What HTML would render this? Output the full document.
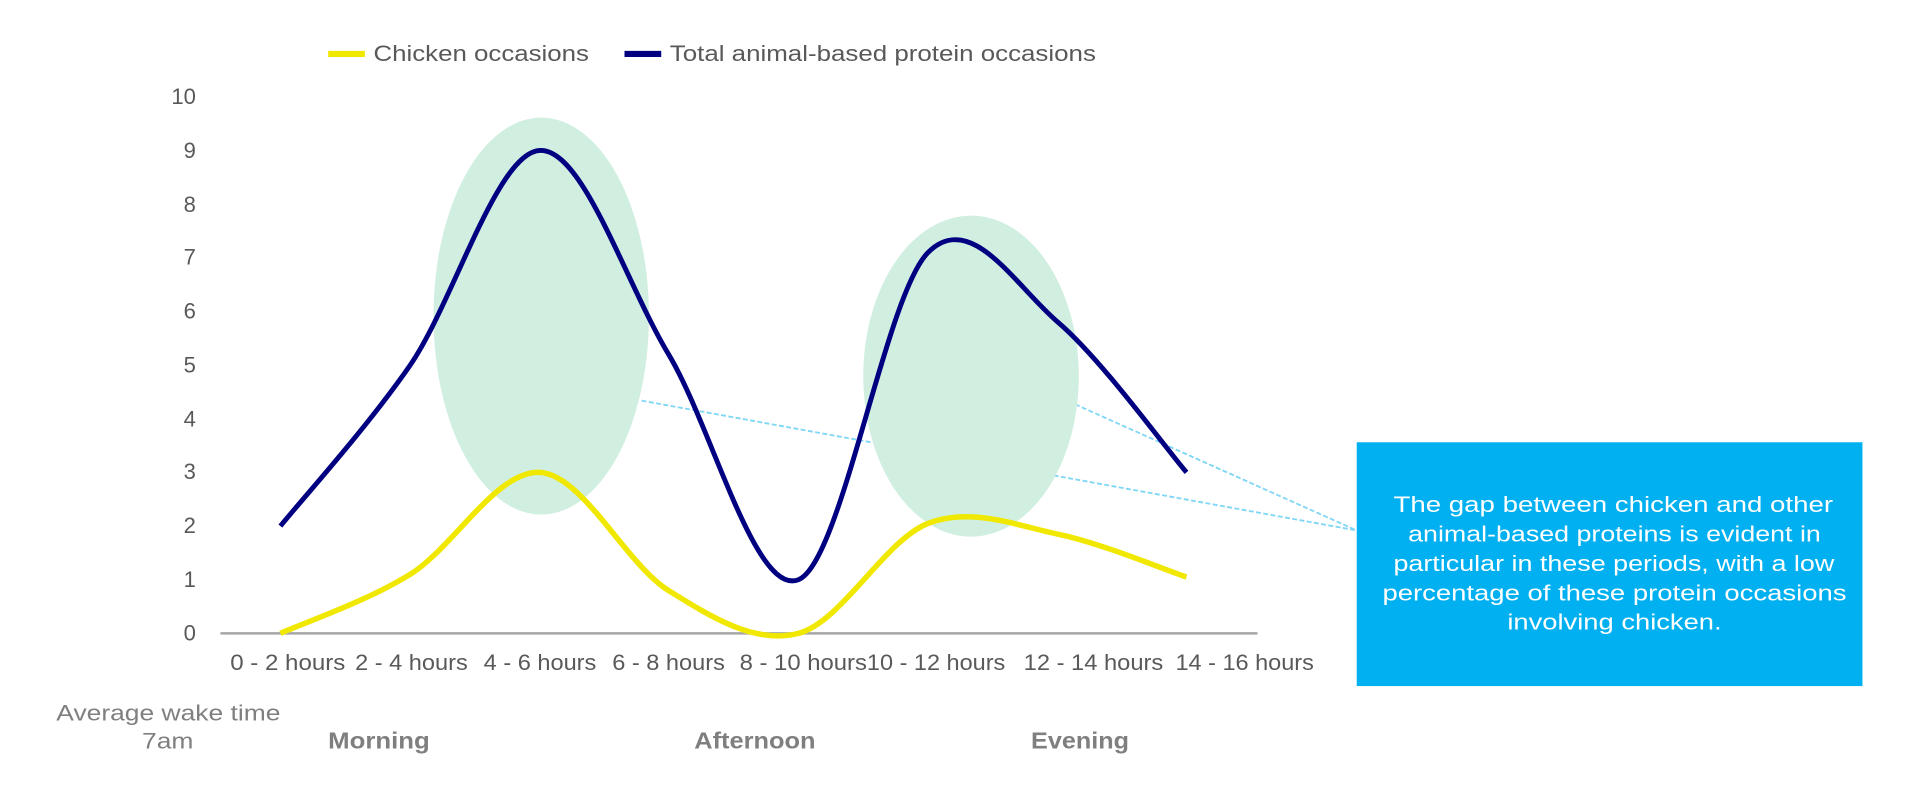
<!DOCTYPE html>
<html><head><meta charset="utf-8"><style>html,body{margin:0;padding:0;background:#fff;overflow:hidden}svg{display:block}</style></head>
<body>
<svg width="1920" height="800" viewBox="0 0 1568 653" preserveAspectRatio="none" xmlns="http://www.w3.org/2000/svg" font-family="Liberation Sans, sans-serif">
<line x1="524" y1="327" x2="1108" y2="433" stroke="#7fd6f5" stroke-width="1.5" stroke-dasharray="4,2"/>
<line x1="878" y1="330" x2="1108" y2="433" stroke="#7fd6f5" stroke-width="1.5" stroke-dasharray="4,2"/>
<ellipse cx="442" cy="258" rx="88" ry="162" fill="#d0efe0"/>
<ellipse cx="793" cy="307" rx="88" ry="131" fill="#d0efe0"/>
<line x1="180" y1="517" x2="1027" y2="517" stroke="#a6a6a6" stroke-width="2"/>
<g fill="#595959" font-size="18" text-anchor="end">
<text x="160" y="523">0</text><text x="160" y="479">1</text><text x="160" y="435">2</text><text x="160" y="391">3</text><text x="160" y="348">4</text><text x="160" y="304">5</text><text x="160" y="260">6</text><text x="160" y="216">7</text><text x="160" y="173">8</text><text x="160" y="129">9</text><text x="160" y="85">10</text>
</g>
<g fill="#595959" font-size="18">
<text x="188" y="547" textLength="94" lengthAdjust="spacingAndGlyphs">0 - 2 hours</text>
<text x="290" y="547" textLength="92" lengthAdjust="spacingAndGlyphs">2 - 4 hours</text>
<text x="395" y="547" textLength="92" lengthAdjust="spacingAndGlyphs">4 - 6 hours</text>
<text x="500" y="547" textLength="92" lengthAdjust="spacingAndGlyphs">6 - 8 hours</text>
<text x="604" y="547" textLength="104" lengthAdjust="spacingAndGlyphs">8 - 10 hours</text>
<text x="708" y="547" textLength="113" lengthAdjust="spacingAndGlyphs">10 - 12 hours</text>
<text x="836" y="547" textLength="114" lengthAdjust="spacingAndGlyphs">12 - 14 hours</text>
<text x="960" y="547" textLength="113" lengthAdjust="spacingAndGlyphs">14 - 16 hours</text>
</g>
<path fill="none" stroke="#000080" stroke-width="4" stroke-linejoin="round" d="M229,429.4 C246.7,407.5 299.7,349.1 335,298 C370.3,246.9 405.8,124.3 441,122.8 C476.2,121.3 510.8,230.8 546,289.2 C581.2,347.6 616.7,487.1 652,473.2 C687.3,459.3 722.7,241 758,206 C793.3,171 828.8,233 864,263 C899.2,292.9 951.5,365.2 969,385.6"/>
<path fill="none" stroke="#f0e800" stroke-width="4.5" stroke-linejoin="round" d="M229,517 C246.7,509 299.7,490.7 335,468.8 C370.3,446.9 405.8,383.4 441,385.6 C476.2,387.8 510.8,460.1 546,482 C581.2,503.9 616.7,526.1 652,517 C687.3,507.9 722.7,440.7 758,427.2 C793.3,413.7 828.8,428.7 864,436 C899.2,443.3 951.5,465.2 969,471"/>
<line x1="268" y1="44" x2="298" y2="44" stroke="#f0e800" stroke-width="5"/>
<text x="305" y="50" font-size="18" fill="#595959" textLength="176" lengthAdjust="spacingAndGlyphs">Chicken occasions</text>
<line x1="510" y1="44" x2="540" y2="44" stroke="#000080" stroke-width="5"/>
<text x="547" y="50" font-size="18" fill="#595959" textLength="348" lengthAdjust="spacingAndGlyphs">Total animal-based protein occasions</text>
<rect x="1108" y="361" width="413" height="199" fill="#00b0f0"/>
<g fill="#fff" font-size="18">
<text x="1138" y="418" textLength="359" lengthAdjust="spacingAndGlyphs">The gap between chicken and other</text>
<text x="1150" y="442" textLength="337" lengthAdjust="spacingAndGlyphs">animal-based proteins is evident in</text>
<text x="1138" y="466" textLength="360" lengthAdjust="spacingAndGlyphs">particular in these periods, with a low</text>
<text x="1129" y="490" textLength="379" lengthAdjust="spacingAndGlyphs">percentage of these protein occasions</text>
<text x="1231" y="514" textLength="175" lengthAdjust="spacingAndGlyphs">involving chicken.</text>
</g>
<g fill="#7f7f7f" font-size="18">
<text x="46" y="588" textLength="183" lengthAdjust="spacingAndGlyphs">Average wake time</text>
<text x="116" y="611" textLength="42" lengthAdjust="spacingAndGlyphs">7am</text>
<g font-weight="bold" font-size="19">
<text x="268" y="611" textLength="83" lengthAdjust="spacingAndGlyphs">Morning</text>
<text x="567" y="611" textLength="99" lengthAdjust="spacingAndGlyphs">Afternoon</text>
<text x="842" y="611" textLength="80" lengthAdjust="spacingAndGlyphs">Evening</text></g>
</g>
</svg>
</body></html>
